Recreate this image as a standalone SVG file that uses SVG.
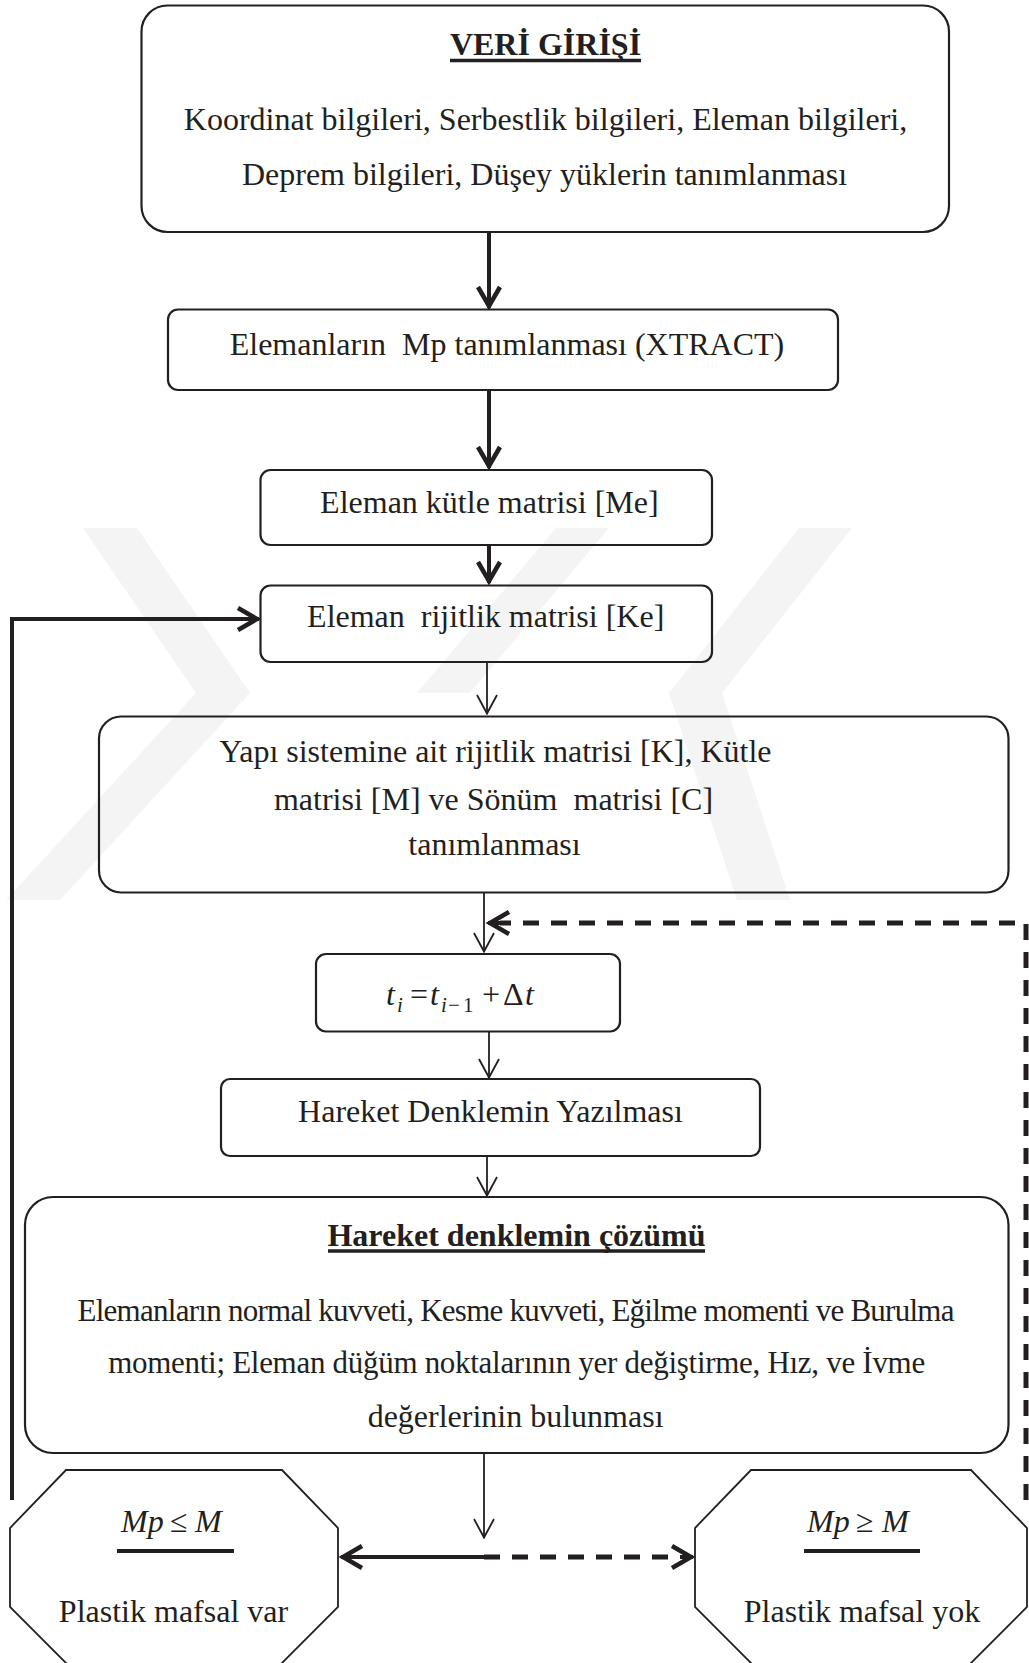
<svg xmlns="http://www.w3.org/2000/svg" width="1029" height="1663" viewBox="0 0 1029 1663">
<style>
.box{fill:none;stroke:#231f20;stroke-width:2.2}
.oct{fill:none;stroke:#231f20;stroke-width:1.8}
.t{font-family:"Liberation Serif","Times New Roman",serif;font-size:32px;fill:#231f20}
.b{font-weight:bold}
.m{text-anchor:middle}
.thick{fill:none;stroke:#231f20;stroke-width:4}
.thin{fill:none;stroke:#231f20;stroke-width:1.8}
.dash{fill:none;stroke:#231f20;stroke-width:5;stroke-dasharray:16 12}
.ul{stroke:#231f20;stroke-width:3.5}
.wm{fill:#f4f4f4}
</style>
<defs>
<marker id="hThick" markerUnits="userSpaceOnUse" markerWidth="34" markerHeight="34" viewBox="-28 -17 34 34" refX="0" refY="0" orient="auto">
<path d="M-21,-11 L-2,0 L-21,11" fill="none" stroke="#231f20" stroke-width="4.5"/>
</marker>
<marker id="hThin" markerUnits="userSpaceOnUse" markerWidth="30" markerHeight="30" viewBox="-24 -15 30 30" refX="0" refY="0" orient="auto">
<path d="M-19,-10 L-0.5,0 L-19,10" fill="none" stroke="#231f20" stroke-width="1.8"/>
</marker>
</defs>
<rect width="1029" height="1663" fill="#fff"/>

<g id="watermark">
<polygon class="wm" points="83,528 137,528 250,693 196,693"/>
<polygon class="wm" points="196,693 250,693 60,900 6,900"/>
<polygon class="wm" points="556,528 609,528 470,693 417,693"/>
<polygon class="wm" points="799,528 852,528 722,693 669,693"/>
<polygon class="wm" points="669,693 722,693 790,900 737,900"/>
</g>

<g id="connectors">
<line class="thick" x1="489" y1="233" x2="489" y2="308" marker-end="url(#hThick)"/>
<line class="thick" x1="489" y1="391" x2="489" y2="468" marker-end="url(#hThick)"/>
<line class="thick" x1="489" y1="546" x2="489" y2="583" marker-end="url(#hThick)"/>
<polyline class="thick" points="12,1500 12,619 259,619" marker-end="url(#hThick)"/>
<line class="thin" x1="487" y1="662" x2="487" y2="714" marker-end="url(#hThin)"/>
<line class="thin" x1="484" y1="893" x2="484" y2="952" marker-end="url(#hThin)"/>
<polyline class="dash" points="1026,1500 1026,923 500,923"/>
<line class="thick" x1="500" y1="923" x2="488" y2="923" marker-end="url(#hThick)"/>
<line class="thin" x1="489" y1="1032" x2="489" y2="1078" marker-end="url(#hThin)"/>
<line class="thin" x1="487" y1="1156" x2="487" y2="1196" marker-end="url(#hThin)"/>
<line class="thin" x1="484" y1="1453" x2="484" y2="1538" marker-end="url(#hThin)"/>
<line class="thick" x1="484" y1="1557" x2="341" y2="1557" marker-end="url(#hThick)"/>
<line class="dash" x1="484" y1="1557" x2="680" y2="1557"/>
<line class="thick" x1="680" y1="1557" x2="693" y2="1557" marker-end="url(#hThick)"/>
</g>

<g id="veri-girisi">
<rect class="box" x="141.5" y="5.5" width="807.5" height="226.5" rx="26"/>
<text class="t b m" x="545.5" y="55">VERİ GİRİŞİ</text>
<line class="ul" x1="450" y1="60.5" x2="641" y2="60.5"/>
<text class="t m" x="545.5" y="130">Koordinat bilgileri, Serbestlik bilgileri, Eleman bilgileri,</text>
<text class="t m" x="544.5" y="185">Deprem bilgileri, Düşey yüklerin tanımlanması</text>
</g>

<g id="mp-tanimlanmasi">
<rect class="box" x="168" y="309.5" width="670" height="80.5" rx="10"/>
<text class="t m" x="507" y="355" xml:space="preserve">Elemanların  Mp tanımlanması (XTRACT)</text>
</g>

<g id="kutle-matrisi">
<rect class="box" x="260.5" y="470" width="451.5" height="75" rx="10"/>
<text class="t m" x="489.4" y="513">Eleman kütle matrisi [Me]</text>
</g>

<g id="rijitlik-matrisi">
<rect class="box" x="260.5" y="585.5" width="451.5" height="76.5" rx="10"/>
<text class="t m" x="485.7" y="627" xml:space="preserve">Eleman  rijitlik matrisi [Ke]</text>
</g>

<g id="sistem-matrisleri">
<rect class="box" x="99" y="716.5" width="909.5" height="176" rx="22"/>
<text class="t m" x="495.4" y="762">Yapı sistemine ait rijitlik matrisi [K], Kütle</text>
<text class="t m" x="493.5" y="810" xml:space="preserve">matrisi [M] ve Sönüm  matrisi [C]</text>
<text class="t m" x="494.5" y="855">tanımlanması</text>
</g>

<g id="zaman-adimi">
<rect class="box" x="316" y="954" width="304" height="77.5" rx="10"/>
<text class="t" y="1005"><tspan x="386" font-style="italic">t</tspan><tspan x="397" y="1012" font-style="italic" style="font-size:21px">i</tspan><tspan x="410" y="1005">=</tspan><tspan x="430" font-style="italic">t</tspan><tspan x="441" y="1012" font-style="italic" style="font-size:21px">i</tspan><tspan x="448" y="1012" style="font-size:21px">−</tspan><tspan x="463" y="1012" style="font-size:21px">1</tspan><tspan x="482" y="1005">+</tspan><tspan x="503">Δ</tspan><tspan x="525" font-style="italic">t</tspan></text>
</g>

<g id="hareket-denklemi">
<rect class="box" x="221" y="1079" width="539" height="77" rx="9"/>
<text class="t m" x="490.5" y="1122">Hareket Denklemin Yazılması</text>
</g>

<g id="denklem-cozumu">
<rect class="box" x="25" y="1197" width="983.5" height="256" rx="28"/>
<text class="t b m" x="516.5" y="1246">Hareket denklemin çözümü</text>
<line class="ul" x1="328" y1="1251" x2="705" y2="1251"/>
<text class="t m" x="516" y="1321" textLength="877" lengthAdjust="spacing" style="font-size:31px">Elemanların normal kuvveti, Kesme kuvveti, Eğilme momenti ve Burulma</text>
<text class="t m" x="516.7" y="1373" textLength="817" lengthAdjust="spacing" style="font-size:31px">momenti; Eleman düğüm noktalarının yer değiştirme, Hız, ve İvme</text>
<text class="t m" x="515.6" y="1427">değerlerinin bulunması</text>
</g>

<g id="plastik-mafsal-var">
<polygon class="oct" points="66,1470 282,1470 338,1528 338,1607 277,1668 71,1668 10,1607 10,1528"/>
<text class="t" y="1532"><tspan x="121" font-style="italic">Mp</tspan><tspan x="170">≤</tspan><tspan x="195" font-style="italic">M</tspan></text>
<line x1="117" y1="1551" x2="234" y2="1551" stroke="#231f20" stroke-width="4"/>
<text class="t m" x="173.5" y="1622">Plastik mafsal var</text>
</g>

<g id="plastik-mafsal-yok">
<polygon class="oct" points="751,1470 971,1470 1027,1528 1027,1607 966,1668 756,1668 695,1607 695,1528"/>
<text class="t" y="1532"><tspan x="807" font-style="italic">Mp</tspan><tspan x="856">≥</tspan><tspan x="882" font-style="italic">M</tspan></text>
<line x1="804" y1="1551" x2="920" y2="1551" stroke="#231f20" stroke-width="4"/>
<text class="t m" x="862" y="1622">Plastik mafsal yok</text>
</g>
</svg>
